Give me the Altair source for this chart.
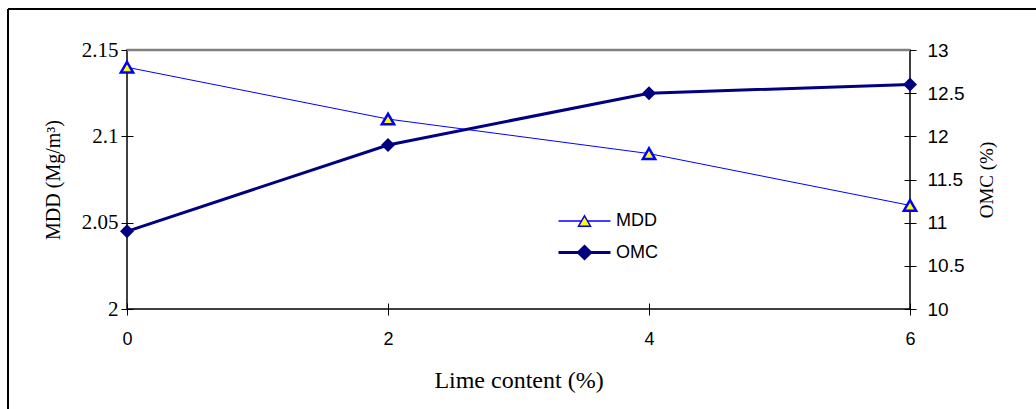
import altair as alt
import pandas as pd

# ---- data ----
lime = [0, 2, 4, 6]
mdd = [2.14, 2.11, 2.09, 2.06]
omc = [10.9, 11.9, 12.5, 12.6]
series = ["MDD", "OMC"]
x_ticks = [0, 2, 4, 6]
mdd_ticks = [2, 2.05, 2.1, 2.15]
omc_ticks = [10, 10.5, 11, 11.5, 12, 12.5, 13]

df = pd.DataFrame({"lime": lime, "mdd": mdd, "omc": omc})
leg_df = pd.DataFrame({"series": series})
one_df = pd.DataFrame({"k": [0]})

W, H = 783, 259
BLUE = "#0000FF"
NAVY = "#000080"
YELLOW = "#FFFF00"

x_enc = alt.X(
    "lime:Q",
    scale=alt.Scale(domain=[0, 6], nice=False, zero=False),
    axis=alt.Axis(
        values=x_ticks, title="Lime content (%)", offset=-6, tickSize=12,
        domain=False, grid=False, labelPadding=15, labelFlush=False,
        labelFont="Liberation Sans", labelFontSize=18,
        titleFont="Liberation Serif", titleFontSize=24,
        titleX=W / 2, titleY=77, titleAlign="center", titleBaseline="middle",
    ),
)

y_left = alt.Y(
    "mdd:Q",
    scale=alt.Scale(domain=[2, 2.15], nice=False, zero=False),
    axis=alt.Axis(
        orient="left", values=mdd_ticks, format="~g", title="MDD (Mg/m³)",
        offset=-6, tickSize=12, domain=False, grid=False, labelPadding=3,
        labelFlush=False, labelOverlap=False,
        labelFont="Liberation Serif", labelFontSize=21,
        titleFont="Liberation Serif", titleFontSize=20, titleAngle=270,
        titleX=-80, titleY=H / 2, titleAlign="center", titleBaseline="middle",
    ),
)

y_right = alt.Y(
    "omc:Q",
    scale=alt.Scale(domain=[10, 13], nice=False, zero=False),
    axis=alt.Axis(
        orient="right", values=omc_ticks, format="~g", title="OMC (%)",
        offset=-6, tickSize=12, domain=False, grid=False, labelPadding=11,
        labelFlush=False, labelOverlap=False,
        labelFont="Liberation Sans", labelFontSize=19,
        titleFont="Liberation Serif", titleFontSize=19, titleAngle=270,
        titleX=82, titleY=H / 2, titleAlign="center", titleBaseline="middle",
    ),
)

# decorative outer frame (top + left) and grey top border of plot area
frame_left = alt.Chart(one_df).mark_rule(color="black", strokeWidth=2).encode(
    x=alt.value(-119), y=alt.value(-41), y2=alt.value(H + 100)
)
frame_top = alt.Chart(one_df).mark_rule(color="black", strokeWidth=2).encode(
    x=alt.value(-119), x2=alt.value(W + 126), y=alt.value(-41)
)
top_rule = alt.Chart(one_df).mark_rule(color="#808080", strokeWidth=2.5).encode(
    x=alt.value(0), x2=alt.value(W), y=alt.value(0)
)

mdd_line = alt.Chart(df).mark_line(color=BLUE, strokeWidth=1).encode(x=x_enc, y=y_left)
mdd_pts = alt.Chart(df).mark_point(
    shape="triangle-up", filled=True, fill=YELLOW, stroke=BLUE,
    strokeWidth=2.5, size=150, opacity=1
).encode(x=x_enc, y=y_left)

omc_line = alt.Chart(df).mark_line(color=NAVY, strokeWidth=3).encode(x=x_enc, y=y_right)
omc_pts = alt.Chart(df).mark_point(
    shape="diamond", filled=True, color=NAVY, size=196, opacity=1
).encode(x=x_enc, y=y_right)

# legend symbols: line + marker paths
p_mdd = "M-2.6,0H-0.3M0.3,0H2.6M0,-0.52L0.6,0.52L-0.6,0.52Z"
p_omc = "M-2.6,0H2.6M0,-0.6L0.6,0L0,0.6L-0.6,0Z"

legend_layer = alt.Chart(leg_df).mark_point(opacity=0).encode(
    shape=alt.Shape("series:N", scale=alt.Scale(domain=series, range=[p_mdd, p_omc]),
                    legend=alt.Legend(title=None)),
    fill=alt.Fill("series:N", scale=alt.Scale(domain=series, range=[YELLOW, NAVY]),
                  legend=alt.Legend(title=None)),
    stroke=alt.Stroke("series:N", scale=alt.Scale(domain=series, range=[BLUE, NAVY]),
                      legend=alt.Legend(title=None)),
    strokeWidth=alt.StrokeWidth("series:N", scale=alt.Scale(domain=series, range=[1.5, 3]),
                                legend=alt.Legend(title=None)),
)

left = alt.layer(frame_left, frame_top, mdd_line, mdd_pts, top_rule)
right = alt.layer(omc_line, omc_pts, legend_layer)

chart = (
    alt.layer(left, right)
    .resolve_scale(y="independent")
    .properties(
        width=W, height=H,
        padding={"left": 127, "top": 50, "right": 126, "bottom": 100},
        autosize=alt.AutoSizeParams(type="none"),
        background="white",
    )
    .configure_view(stroke="black", strokeWidth=1.5)
    .configure_axis(
        labelColor="black", tickColor="black", titleColor="black",
        titleFontWeight="normal", tickWidth=1,
    )
    .configure_legend(
        orient="none", legendX=446, legendY=160, padding=0,
        symbolSize=400, rowPadding=10, labelOffset=20, symbolOpacity=1,
        labelFont="Liberation Sans", labelFontSize=18, labelColor="black",
    )
)

chart.save("out.html", embed_options={"renderer": "svg", "actions": False})
